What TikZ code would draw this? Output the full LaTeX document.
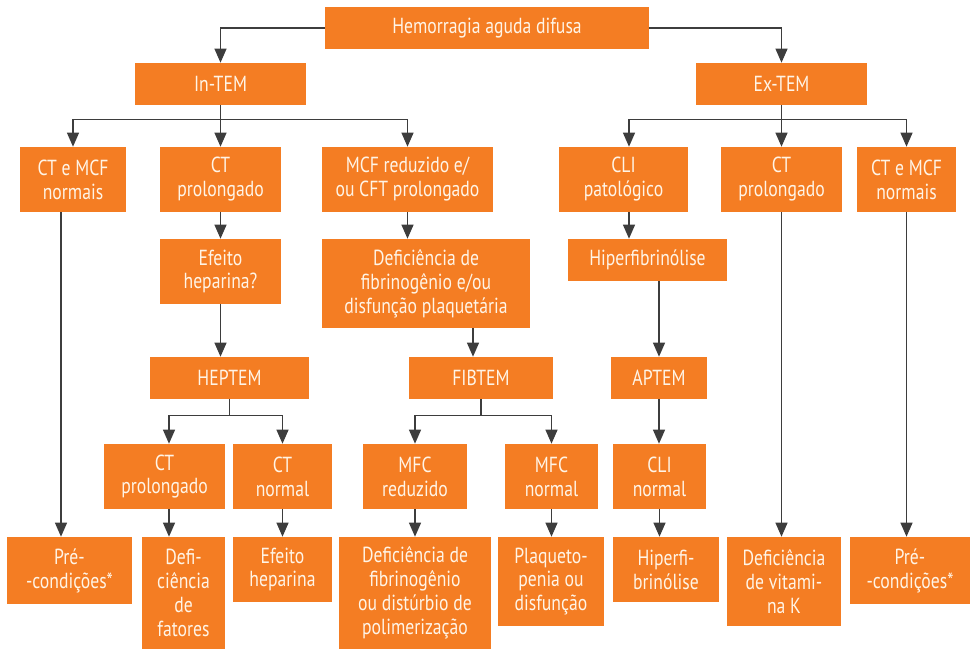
\documentclass[tikz,border=0pt]{standalone}
\usepackage{fontspec}
\setmainfont{PT Sans}[FakeStretch=0.81]
\usepackage{tikz}
\usetikzlibrary{arrows.meta}
\definecolor{laranja}{HTML}{F47D23}
\definecolor{cinza}{HTML}{3D3D3D}
\definecolor{creme}{HTML}{FFF4E6}
\tikzstyle{caixa}=[fill=laranja,text=creme,inner sep=0pt,align=center,font=\fontsize{15.5}{17}\selectfont]
\tikzstyle{seta}=[draw=cinza,line width=1pt,-{Triangle[width=8.5pt,length=10pt]}]
\tikzset{tam/.style 2 args={minimum width=#1*0.025cm,minimum height=#2*0.025cm}}

\begin{document}
\begin{tikzpicture}[x=0.025cm,y=-0.025cm]
  \useasboundingbox (0,0) rectangle (970,649);

  \node[caixa,tam={324}{42}] (hem) at (487,28) {Hemorragia aguda difusa};
  \node[caixa,tam={171}{42}] (in) at (220.5,84) {In-TEM};
  \node[caixa,tam={171}{42}] (ex) at (781.5,84) {Ex-TEM};

  % ramo In-TEM
  \node[caixa,tam={106}{65}] (in1) at (73,179.5) {CT e MCF\\normais};
  \node[caixa,tam={121}{65}] (in2) at (220.5,179.5) {CT\\prolongado};
  \node[caixa,tam={171}{65}] (in3) at (407.5,179.5) {MCF reduzido e/\\ou CFT prolongado};
  \node[caixa,tam={121}{65}] (hep) at (220.5,271.5) {Efeito\\heparina?};
  \node[caixa,tam={208}{89}] (fib) at (426,283.5) {Deficiência de\\fibrinogênio e/ou\\disfunção plaquetária};
  \node[caixa,tam={159}{42}] (heptem) at (229.5,378) {HEPTEM};
  \node[caixa,tam={144}{42}] (fibtem) at (481,378) {FIBTEM};
  \node[caixa,tam={121}{65}] (hep1) at (164.5,476.5) {CT\\prolongado};
  \node[caixa,tam={99}{65}] (hep2) at (282.5,476.5) {CT\\normal};
  \node[caixa,tam={104}{65}] (fib1) at (415,476.5) {MFC\\reduzido};
  \node[caixa,tam={93}{65}] (fib2) at (551.5,476.5) {MFC\\normal};

  % ramo Ex-TEM
  \node[caixa,tam={129}{65}] (ex1) at (623.5,179.5) {CLI\\patológico};
  \node[caixa,tam={121}{65}] (ex2) at (781.5,179.5) {CT\\prolongado};
  \node[caixa,tam={99}{65}] (ex3) at (906.5,179.5) {CT e MCF\\normais};
  \node[caixa,tam={159}{42}] (hf) at (647.5,260) {Hiperfibrinólise};
  \node[caixa,tam={96}{42}] (aptem) at (659,378) {APTEM};
  \node[caixa,tam={93}{65}] (ap1) at (659.5,476.5) {CLI\\normal};

  % resultados
  \node[caixa,tam={125}{67}] (r1) at (69.5,570.5) {Pré-\\-condições*};
  \node[caixa,tam={83}{112}] (r2) at (183.5,593) {Defi-\\ciência\\de\\fatores};
  \node[caixa,tam={99}{65}] (r3) at (282.5,569.5) {Efeito\\heparina};
  \node[caixa,tam={152}{112}] (r4) at (415,593) {Deficiência de\\fibrinogênio\\ou distúrbio de\\polimerização};
  \node[caixa,tam={106}{89}] (r5) at (551,581.5) {Plaqueto-\\penia ou\\disfunção};
  \node[caixa,tam={106}{65}] (r6) at (666,569.5) {Hiperfi-\\brinólise};
  \node[caixa,tam={114}{89}] (r7) at (784,581.5) {Deficiência\\de vitami-\\na K};
  \node[caixa,tam={120}{67}] (r8) at (910,570.5) {Pré-\\-condições*};

  % colunas das setas fora do centro
  \coordinate (c1) at (61,0);
  \coordinate (c2) at (629,0);
  \coordinate (c3) at (473,0);
  \coordinate (c4) at (169,0);

  \draw[seta] (hem.west) -| (in);
  \draw[seta] (hem.east) -| (ex);
  \foreach \n in {in1,in2,in3}{
    \draw[seta] (in.south) -- ++(0,14) -| (\n);
  }
  \draw[seta] (ex.south) -- ++(0,14) -| (ex1.north -| c2);
  \foreach \n in {ex2,ex3}{
    \draw[seta] (ex.south) -- ++(0,14) -| (\n);
  }
  \draw[seta] (heptem.south) -- ++(0,16) -| (hep1.north -| c4);
  \draw[seta] (heptem.south) -- ++(0,16) -| (hep2);
  \foreach \n in {fib1,fib2}{
    \draw[seta] (fibtem.south) -- ++(0,16) -| (\n);
  }

  \draw[seta] (in1.south -| c1) -- (r1.north -| c1);
  \draw[seta] (ex1.south -| c2) -- (hf.north -| c2);
  \draw[seta] (fib.south -| c3) -- (fibtem.north -| c3);
  \draw[seta] (hep1.south -| c4) -- (r2.north -| c4);
  \draw[seta] (hf.south -| aptem) -- (aptem);
  \foreach \a/\b in {in2/hep,in3/fib,hep/heptem,aptem/ap1,hep2/r3,fib1/r4,fib2/r5,ap1/r6,ex2/r7,ex3/r8}{
    \draw[seta] (\a.south) -- (\a.south |- \b.north);
  }
\end{tikzpicture}
\end{document}
